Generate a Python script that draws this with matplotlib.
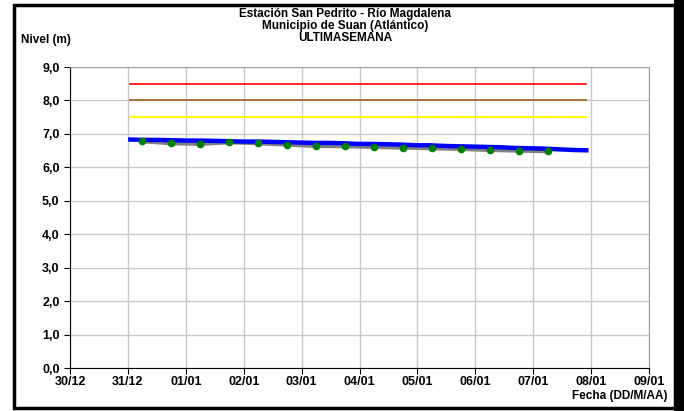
import numpy as np
import pandas as pd
import matplotlib
matplotlib.use("Agg")
import matplotlib.pyplot as plt
import matplotlib.dates as mdates
from matplotlib.patches import Rectangle

plt.rcParams['font.family'] = ['Liberation Sans', 'DejaVu Sans']

# niveles de alerta
alerta_roja = 8.5
alerta_naranja = 8.0
alerta_amarilla = 7.5
alerta_ini = pd.Timestamp('2018-12-31 01:00')
alerta_fin = pd.Timestamp('2019-01-07 22:00')

# serie continua (azul), cada ~6 h
nivel_continuo = [6.83, 6.82, 6.82, 6.81, 6.80, 6.80, 6.79, 6.78, 6.77, 6.77, 6.76,
                  6.75, 6.74, 6.73, 6.73, 6.72, 6.70, 6.70, 6.69, 6.68, 6.66, 6.66,
                  6.64, 6.63, 6.62, 6.61, 6.60, 6.58, 6.57, 6.56, 6.54, 6.52, 6.51]
t_continuo = pd.date_range(alerta_ini, alerta_fin, periods=len(nivel_continuo))

# lecturas de mira (6 am / 6 pm)
nivel_mira = [6.78, 6.72, 6.70, 6.75, 6.72, 6.68, 6.64, 6.63, 6.61, 6.59,
              6.57, 6.55, 6.52, 6.50, 6.48]
t_mira = pd.date_range('2018-12-31 06:00', periods=len(nivel_mira), freq='12h')

fig = plt.figure(figsize=(6.84, 4.11), dpi=100)
ax = fig.add_axes([70/684, 1-368/411, (649-70)/684, (368-67)/411])

ax.plot([alerta_ini, alerta_fin], [alerta_roja]*2, color='#FF0000', lw=1.2)
ax.plot([alerta_ini, alerta_fin], [alerta_naranja]*2, color='#A8733F', lw=1.4)
ax.plot([alerta_ini, alerta_fin], [alerta_amarilla]*2, color='#FFFF00', lw=1.4)

ax.plot(t_mira, nivel_mira, color='#808080', lw=3, zorder=3)
ax.plot(t_continuo, nivel_continuo, color='#0000FF', lw=3.2, zorder=4)
ax.plot(t_mira, nivel_mira, 'o', color='#008000', ms=4.5, zorder=5)

ax.set_xlim(pd.Timestamp('2018-12-30'), pd.Timestamp('2019-01-09'))
ax.set_ylim(0, 9)
ax.set_yticks(np.arange(0, 9.1, 1))
ax.set_yticklabels([f"{v:.1f}".replace('.', ',') for v in np.arange(0, 9.1, 1)])
ax.xaxis.set_major_locator(mdates.DayLocator())
ax.xaxis.set_major_formatter(mdates.DateFormatter('%d/%m'))

ax.grid(True, color='#C8C8C8', lw=1)
ax.set_axisbelow(True)
for s in ['top', 'right']:
    ax.spines[s].set_color('#A0A0A0')
for s in ['left', 'bottom']:
    ax.spines[s].set_color('black')
ax.tick_params(axis='both', labelsize=9, length=4, width=0.8)
ax.tick_params(axis='x', pad=2)
for lab in ax.get_xticklabels() + ax.get_yticklabels():
    lab.set_fontweight('bold')

titulo = ['Estación San Pedrito - Río Magdalena', 'Municipio de Suan (Atlántico)', 'ULTIMASEMANA']
for i, linea in enumerate(titulo):
    fig.text(345/684, 1-(14 + 12*i)/411, linea, ha='center', va='center',
             fontsize=8.5, fontweight='bold')
fig.text(21/684, 1-40/411, 'Nivel (m)', ha='left', va='center', fontsize=8.5, fontweight='bold')
fig.text(668/684, 1-396/411, 'Fecha (DD/M/AA)', ha='right', va='center', fontsize=8.5,
         fontweight='bold')

# marco
fig.patches.append(Rectangle((14/684, 1-408/411), (675-14)/684, (408-5)/411,
                             transform=fig.transFigure, fill=False, ec='black', lw=2.5))
fig.patches.append(Rectangle((674/684, 0), 10/684, 1, transform=fig.transFigure,
                             fc='black', ec='none'))

fig.savefig('out.png', dpi=100)
